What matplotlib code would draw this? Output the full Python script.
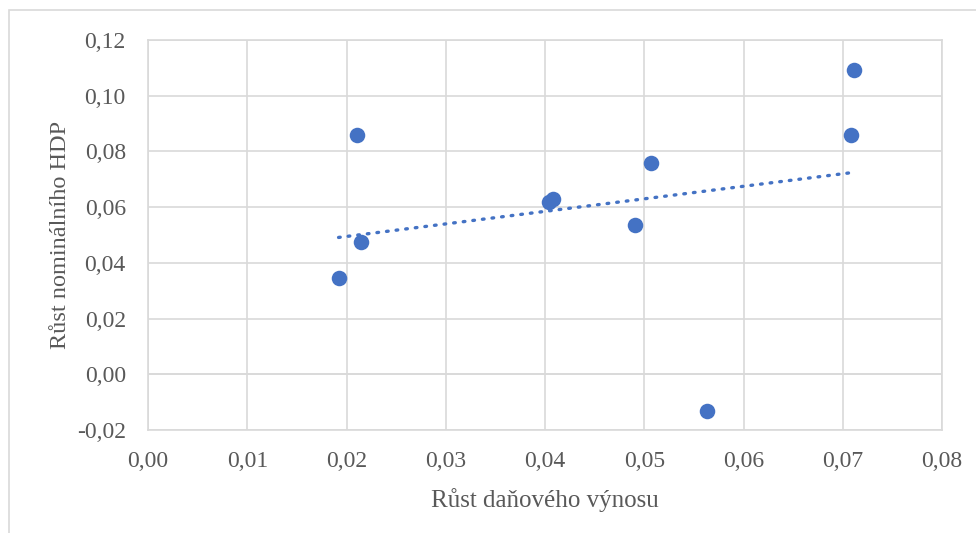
import matplotlib.pyplot as plt
import numpy as np
from matplotlib.patches import Rectangle
from matplotlib.ticker import FuncFormatter

plt.rcParams['font.family'] = ['Liberation Serif', 'DejaVu Serif']

# data
tax_growth = [0.0192, 0.0211, 0.0215, 0.0404, 0.0408, 0.0491, 0.0507, 0.0563, 0.0708, 0.0711]
gdp_growth = [0.0345, 0.0858, 0.0474, 0.0618, 0.0628, 0.0535, 0.0758, -0.0133, 0.0858, 0.1092]
xticks = [0.00, 0.01, 0.02, 0.03, 0.04, 0.05, 0.06, 0.07, 0.08]
yticks = [-0.02, 0.00, 0.02, 0.04, 0.06, 0.08, 0.10, 0.12]

blue = '#4472C4'
grey = '#D9D9D9'
txt = '#595959'

fig = plt.figure(figsize=(9.76, 5.33), dpi=100, facecolor='w')
ax = fig.add_axes([148 / 976, 1 - 430 / 533, (942 - 148) / 976, (430 - 40) / 533])

# outer chart frame
fig.patches.append(Rectangle((9 / 976, -0.1), 1.2, 1 - 10 / 533 + 0.1,
                             transform=fig.transFigure, fill=False,
                             edgecolor=grey, linewidth=1.2))

ax.scatter(tax_growth, gdp_growth, s=125, color=blue, zorder=3, linewidths=0)

# linear trendline
k, q = np.polyfit(tax_growth, gdp_growth, 1)
xt = np.array([min(tax_growth), max(tax_growth)])
ax.plot(xt, k * xt + q, color=blue, linewidth=2.4, dashes=(0.5, 2.4),
        dash_capstyle='round', zorder=4)

ax.set_xlim(0, 0.08)
ax.set_ylim(-0.02, 0.12)
ax.set_xticks(xticks)
ax.set_yticks(yticks)
fmt = FuncFormatter(lambda v, p: f'{v:.2f}'.replace('.', ','))
ax.xaxis.set_major_formatter(fmt)
ax.yaxis.set_major_formatter(fmt)
ax.grid(True, color=grey, linewidth=1.2, zorder=0)
ax.set_axisbelow(True)
for s in ax.spines.values():
    s.set_color(grey)
    s.set_linewidth(1.2)
ax.axhline(0, color=grey, linewidth=1.2, zorder=1)
ax.tick_params(length=0, labelsize=17, labelcolor=txt)
ax.tick_params(axis='y', pad=16)
ax.tick_params(axis='x', pad=15)

ax.set_xlabel('Růst daňového výnosu', fontsize=18, color=txt, labelpad=12)
ax.set_ylabel('Růst nominálního HDP', fontsize=17.5, color=txt, labelpad=4)

fig.savefig('out.png', dpi=100, facecolor='w')
